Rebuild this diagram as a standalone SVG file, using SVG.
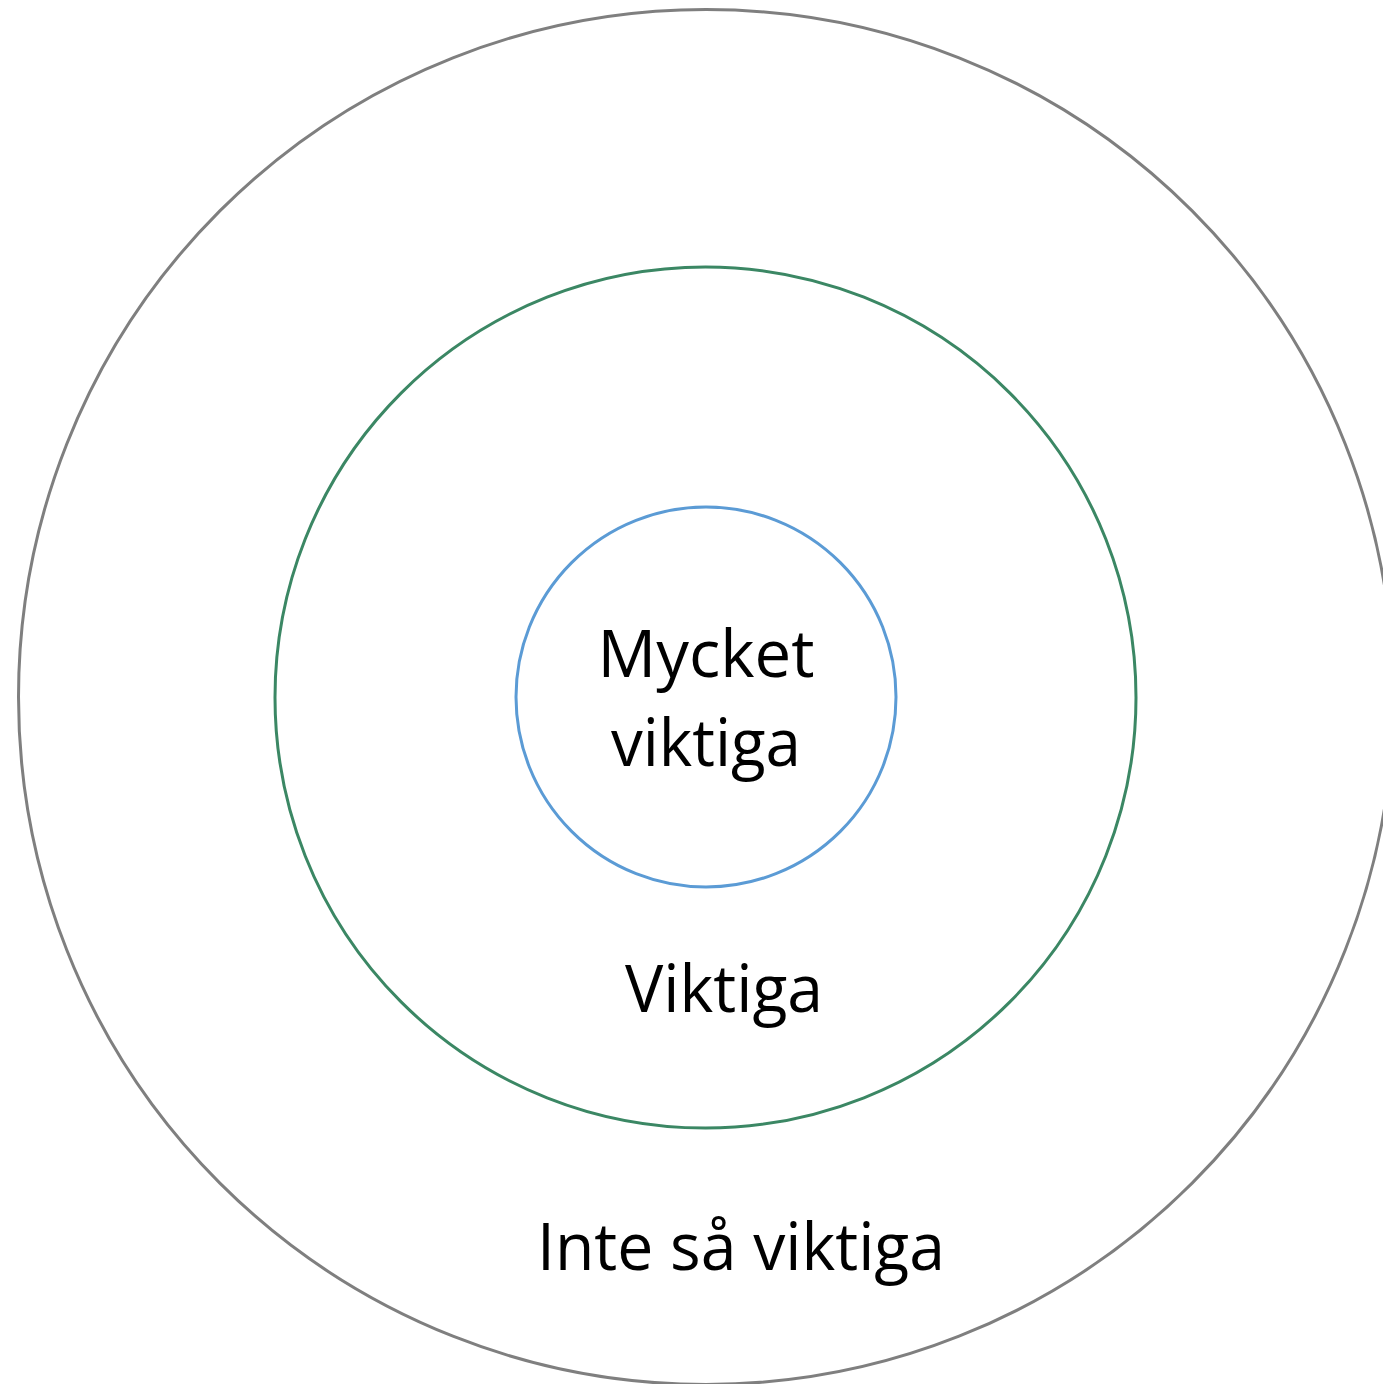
<svg xmlns="http://www.w3.org/2000/svg" width="1383" height="1384" viewBox="0 0 1383 1384">
  <style>
    .ring { fill: none; stroke-width: 3; }
    .label { font-family: "Open Sans", "Liberation Sans", sans-serif; font-size: 66px; fill: #000; text-anchor: middle; }
  </style>
  <rect width="1383" height="1384" fill="#fff"/>
  <g id="outer">
    <circle class="ring" cx="706" cy="697" r="687.5" stroke="#7f7f7f"/>
    <text class="label" x="741" y="1270" textLength="408" lengthAdjust="spacingAndGlyphs">Inte så viktiga</text>
  </g>
  <g id="middle">
    <circle class="ring" cx="705.5" cy="697.5" r="430.5" stroke="#3b8764"/>
    <text class="label" x="724" y="1012" textLength="198" lengthAdjust="spacingAndGlyphs">Viktiga</text>
  </g>
  <g id="inner">
    <circle class="ring" cx="706" cy="697" r="190" stroke="#5b9bd5"/>
    <text class="label" x="706" y="677" textLength="217" lengthAdjust="spacingAndGlyphs">Mycket</text>
    <text class="label" x="706" y="766" textLength="190" lengthAdjust="spacingAndGlyphs">viktiga</text>
  </g>
  <g id="connectors"/>
</svg>
